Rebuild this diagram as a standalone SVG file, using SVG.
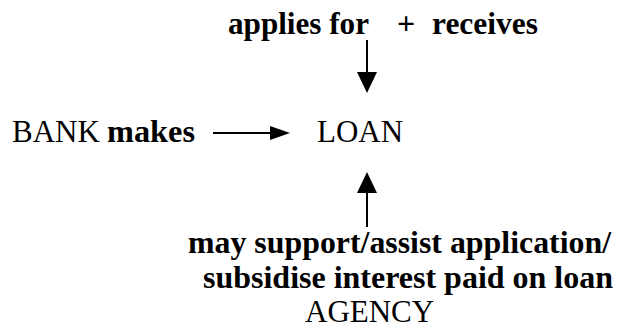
<svg xmlns="http://www.w3.org/2000/svg" width="618" height="329" viewBox="0 0 618 329">
<style>
.r{font-family:'Liberation Serif','Times New Roman',serif;font-size:31px;fill:#000}
.b{font-family:'Liberation Serif','Times New Roman',serif;font-size:32px;font-weight:700;fill:#000}
.ln{stroke:#000;stroke-width:2;fill:none}
.hd{fill:#000}
</style>
<rect width="618" height="329" fill="#fff"/>
<g id="applicant">
<text class="b" x="228" y="34" textLength="141" lengthAdjust="spacingAndGlyphs">applies for</text>
<text class="b" x="397" y="34">+</text>
<text class="b" x="432" y="34" textLength="106" lengthAdjust="spacingAndGlyphs">receives</text>
</g>
<g id="bank">
<text class="r" x="12" y="142">BANK</text>
<text class="b" x="107" y="142" textLength="88" lengthAdjust="spacingAndGlyphs">makes</text>
</g>
<g id="loan">
<text class="r" x="317" y="142">LOAN</text>
</g>
<g id="agency">
<text class="b" x="188" y="253" textLength="423" lengthAdjust="spacingAndGlyphs">may support/assist application/</text>
<text class="b" x="203" y="288" textLength="410" lengthAdjust="spacingAndGlyphs">subsidise interest paid on loan</text>
<text class="r" x="305" y="322">AGENCY</text>
</g>
<g id="connectors">
<line class="ln" x1="367" y1="40" x2="367" y2="73"/>
<polygon class="hd" points="357,72 377,72 367,93"/>
<line class="ln" x1="213" y1="133" x2="271" y2="133"/>
<polygon class="hd" points="270,126 270,140 290,133"/>
<line class="ln" x1="367" y1="192" x2="367" y2="227"/>
<polygon class="hd" points="357,193 377,193 367,172"/>
</g>
</svg>
